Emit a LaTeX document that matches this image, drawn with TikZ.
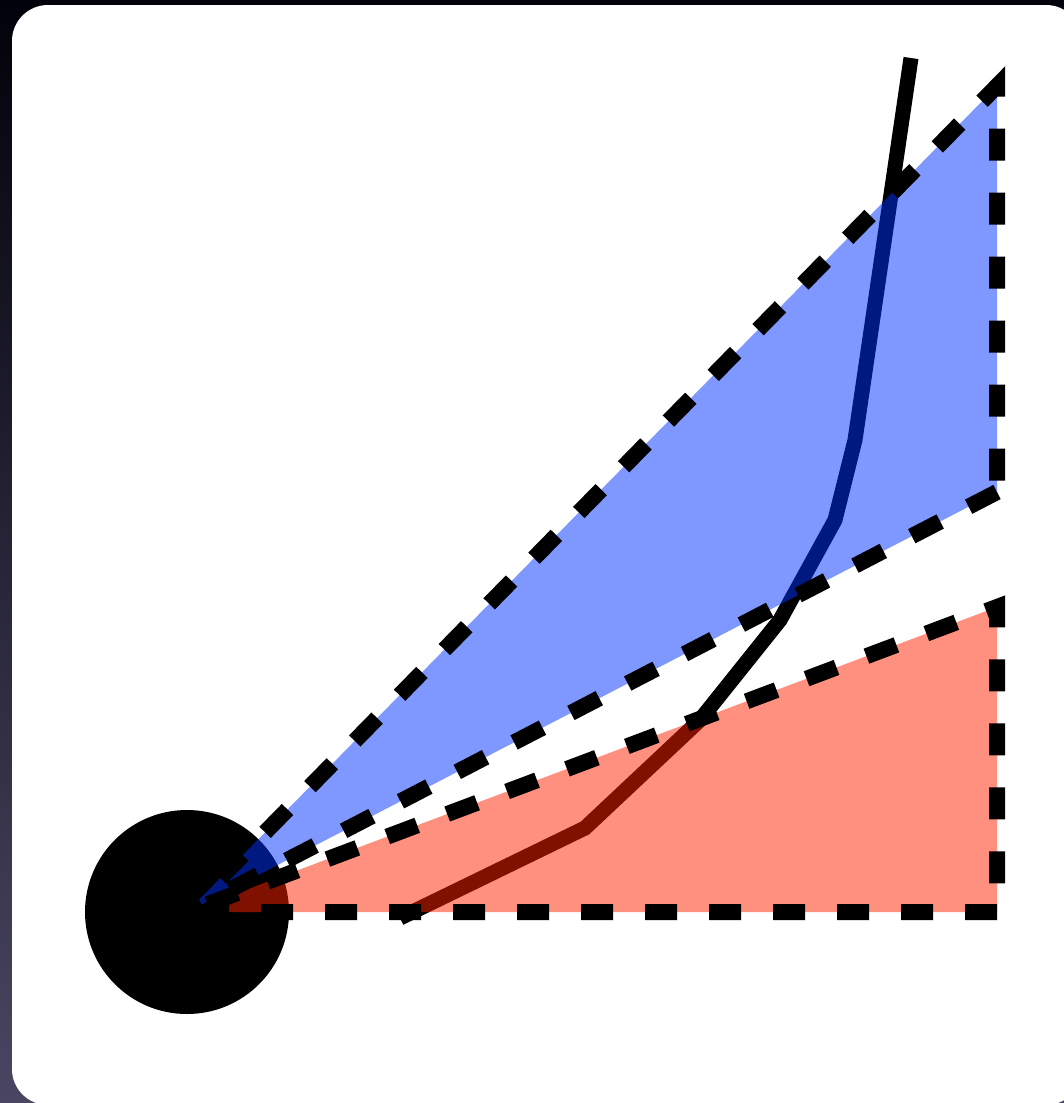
\documentclass[tikz,border=0pt]{standalone}
\definecolor{bgtop}{RGB}{2,2,10}
\definecolor{bgmid}{RGB}{22,24,52}
\definecolor{bgbot}{RGB}{74,70,98}
\definecolor{wblue}{RGB}{0,51,255}
\definecolor{wred}{RGB}{255,33,0}
\begin{document}
\begin{tikzpicture}[x=1pt,y=-1pt,
  bluewedge/.style={fill=wblue, fill opacity=0.5},
  redwedge/.style={fill=wred, fill opacity=0.5},
  outline/.style={draw=black, line width=16pt, dash pattern=on 32pt off 32pt},
  track/.style={draw=black, line width=15pt}]
\useasboundingbox (0,0) rectangle (1064,1103);
\shade[top color=bgtop, middle color=bgmid, bottom color=bgbot] (0,0) rectangle (1064,1103);
\begin{scope}
  \clip (0,0) rectangle (1064,1103);
  \fill[white, rounded corners=36pt] (12,5) rectangle (1082,1105);
\end{scope}
\coordinate (apex) at (187,912);
\coordinate (b1) at (997,492);
\coordinate (b2) at (997,86);
\coordinate (r1) at (997,912);
\coordinate (r2) at (997,607);
\coordinate (t0) at (911,58);
\coordinate (t1) at (855,440);
\coordinate (t2) at (835,520);
\coordinate (t3) at (780,620);
\coordinate (t4) at (700,720);
\coordinate (t5) at (585,828);
\coordinate (t6) at (400,918);
\fill[black] (apex) circle (102pt);
\path[track] (t0) -- (t1) -- (t2) -- (t3) -- (t4) -- (t5) -- (t6);
\fill[bluewedge] (b1) -- (apex) -- (b2) -- cycle;
\fill[redwedge] (r1) -- (apex) -- (r2) -- cycle;
\path[outline] (b1) -- (apex) -- (b2) -- cycle;
\path[outline] (r1) -- (apex) -- (r2) -- cycle;
\end{tikzpicture}
\end{document}
